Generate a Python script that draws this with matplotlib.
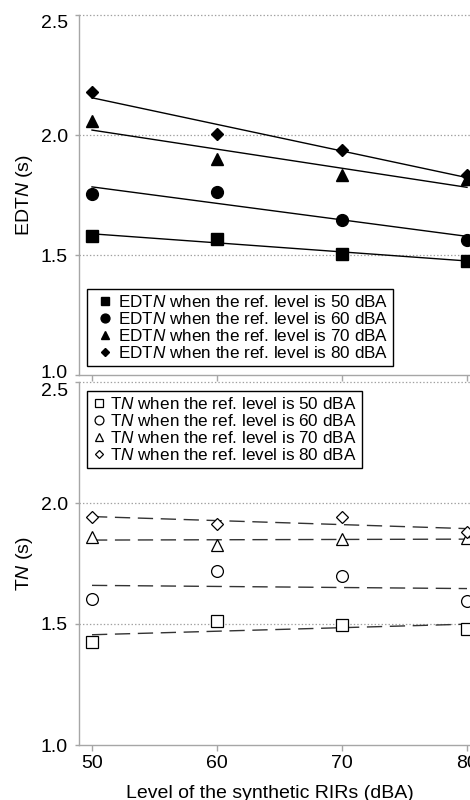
import numpy as np
import matplotlib
matplotlib.use("Agg")
import matplotlib.pyplot as plt
import matplotlib.transforms as mtransforms

plt.rcParams['font.family'] = ['Liberation Sans', 'DejaVu Sans']
plt.rcParams['mathtext.fontset'] = 'custom'
plt.rcParams['mathtext.rm'] = 'Liberation Sans'
plt.rcParams['mathtext.it'] = 'Liberation Sans:italic'
plt.rcParams['lines.scale_dashes'] = False

# data
levels = [50, 60, 70, 80]
ref_levels = [50, 60, 70, 80]
edt_50 = [1.580, 1.567, 1.505, 1.475]
edt_60 = [1.753, 1.762, 1.645, 1.563]
edt_70 = [2.058, 1.899, 1.833, 1.815]
edt_80 = [2.180, 2.005, 1.937, 1.833]
t_50 = [1.424, 1.512, 1.496, 1.478]
t_60 = [1.602, 1.718, 1.698, 1.594]
t_70 = [1.861, 1.825, 1.853, 1.856]
t_80 = [1.944, 1.912, 1.941, 1.879]
yticks = [1.0, 1.5, 2.0, 2.5]

markers = ['s', 'o', '^', 'D']
msizes_full = [8.5, 8.5, 8.5, 5.9]
msizes_open = [8.5, 8.5, 8.0, 5.9]
gray = '#a6a6a6'

fig = plt.figure(figsize=(4.7, 8), dpi=100)
ax1 = fig.add_axes([79/470, 1-375/800, 400.5/470, 360/800])
ax2 = fig.add_axes([79/470, 1-745/800, 400.5/470, 363/800])

x = np.array(levels, dtype=float)


def style(ax):
    ax.set_xlim(48.96, 81.0)
    ax.set_ylim(1.0, 2.5)
    ax.set_xticks(levels)
    ax.set_yticks(yticks)
    ax.set_yticklabels(['%.1f' % v for v in yticks])
    for s in ['top', 'right']:
        ax.spines[s].set_visible(False)
    for s in ['left', 'bottom']:
        ax.spines[s].set_color(gray)
        ax.spines[s].set_linewidth(1.0)
    ax.tick_params(axis='both', colors=gray, labelcolor='black', labelsize=14,
                   length=3, width=1)
    ax.tick_params(axis='y', pad=5)
    ax.tick_params(axis='x', length=4, pad=3.5)
    for v in yticks[1:]:
        ax.axhline(v, color='#a0a0a0', linestyle=(0, (1, 1.5)), linewidth=0.9,
                   zorder=0, clip_on=False)


def shift_label(ax, idx, dy_px):
    lab = ax.get_yticklabels()[idx]
    lab.set_transform(lab.get_transform() +
                      mtransforms.ScaledTranslation(0, dy_px/100.0, fig.dpi_scale_trans))


# top panel: EDT_N
style(ax1)
ax1.tick_params(axis='x', labelbottom=False)
for ys, m, ms, lev in zip([edt_50, edt_60, edt_70, edt_80], markers, msizes_full, ref_levels):
    ys = np.array(ys)
    k, b = np.polyfit(x, ys, 1)
    ax1.plot(x, k*x + b, color='black', linewidth=1.0, zorder=2)
    ax1.plot(x, ys, linestyle='none', marker=m, markersize=ms, color='black',
             zorder=3, clip_on=False,
             label=r'EDT$\mathit{N}$ when the ref. level is %d dBA' % lev)
ax1.set_ylabel(r'EDT$\mathit{N}$ (s)', fontsize=14, labelpad=4)
shift_label(ax1, 0, 4)
shift_label(ax1, 3, -6)
leg1 = ax1.legend(loc='lower left', bbox_to_anchor=(0.02, 0.025), borderaxespad=0,
                  fontsize=12.3, labelspacing=0.05, handlelength=1.5, handletextpad=0.0,
                  borderpad=0.3, fancybox=False, markerscale=0.75, framealpha=1)
leg1.get_frame().set_edgecolor('black')
leg1.get_frame().set_linewidth(1.0)

# bottom panel: T_N
style(ax2)
for ys, m, ms, lev in zip([t_50, t_60, t_70, t_80], markers, msizes_open, ref_levels):
    ys = np.array(ys)
    k, b = np.polyfit(x, ys, 1)
    ax2.plot(x, k*x + b, color='#333333', linewidth=1.0, dashes=(11, 5.5), zorder=2)
    ax2.plot(x, ys, linestyle='none', marker=m, markersize=ms, markerfacecolor='white',
             markeredgecolor='black', markeredgewidth=0.9, zorder=3, clip_on=False,
             label=r'T$\mathit{N}$ when the ref. level is %d dBA' % lev)
ax2.set_ylabel(r'T$\mathit{N}$ (s)', fontsize=14, labelpad=4)
ax2.set_xlabel('Level of the synthetic RIRs (dBA)', fontsize=14)
ax2.xaxis.set_label_coords(0.477, -0.11)
shift_label(ax2, 3, -8)
leg2 = ax2.legend(loc='upper left', bbox_to_anchor=(0.02, 0.975), borderaxespad=0,
                  fontsize=12.3, labelspacing=0.05, handlelength=0.8, handletextpad=0.25,
                  borderpad=0.3, fancybox=False, markerscale=0.75, framealpha=1)
leg2.get_frame().set_edgecolor('black')
leg2.get_frame().set_linewidth(1.0)

fig.savefig('out.png', dpi=100)
